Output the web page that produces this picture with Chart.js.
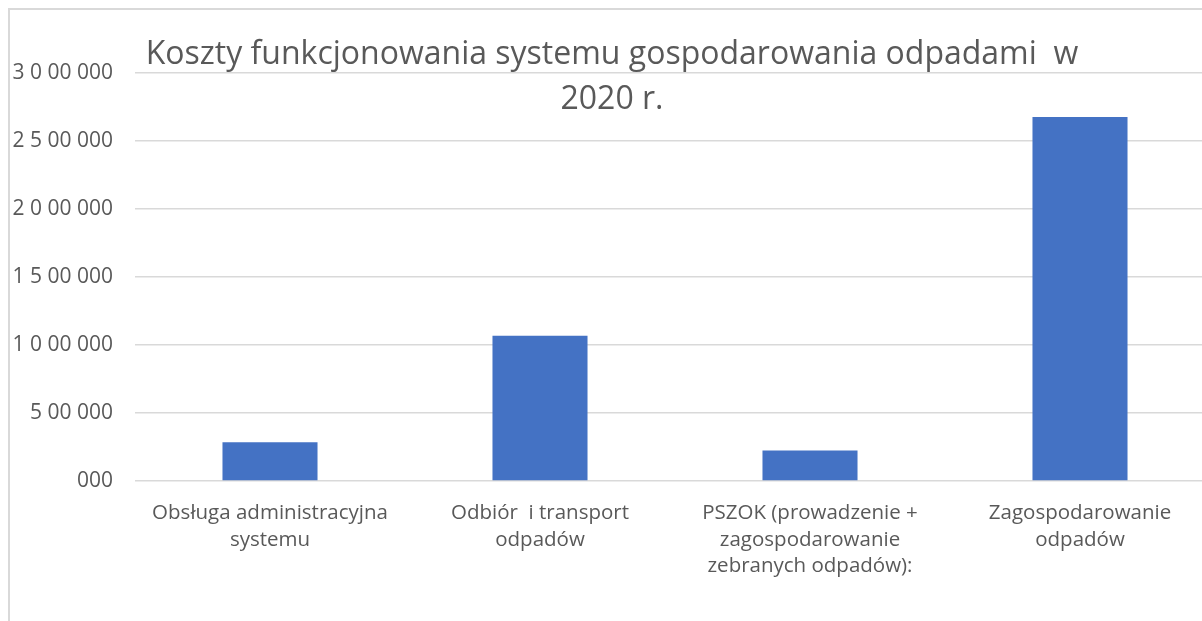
<!DOCTYPE html>
<html>
<head>
<meta charset="utf-8">
<script src="https://cdn.jsdelivr.net/npm/chart.js@4.4.1/dist/chart.umd.min.js"></script>
<style>
  html, body { margin: 0; padding: 0; background: #fff; overflow: hidden; }
  #wrap { position: relative; width: 1240px; height: 621px; }
</style>
</head>
<body>
<div id="wrap"><canvas id="myChart"></canvas></div>
<script>
// dane wykresu
const categories = [
    ['Obsługa administracyjna', 'systemu'],
    ['Odbiór  i transport', 'odpadów'],
    ['PSZOK (prowadzenie +', 'zagospodarowanie', 'zebranych odpadów):'],
    ['Zagospodarowanie', 'odpadów']
];
const costs = [285000, 1068000, 225000, 2676000];
const yTickLabels = ['000', '5 00 000', '1 0 00 000', '1 5 00 000', '2 0 00 000', '2 5 00 000', '3 0 00 000'];
const titleLines = ['Koszty funkcjonowania systemu gospodarowania odpadami  w', '2020 r.'];

const textColor = '#595959';
const gridColor = '#d9d9d9';
const fontFamily = '"Open Sans", "Noto Sans", sans-serif';

// ramka wykresu + tytuł nachodzący na obszar wykresu
const framePlugin = {
    id: 'frame',
    beforeDraw(chart) {
        const c = chart.ctx;
        c.save();
        c.fillStyle = '#fff';
        c.fillRect(0, 0, chart.width, chart.height);
        c.strokeStyle = gridColor;
        c.lineWidth = 2;
        c.beginPath();
        c.moveTo(9, chart.height);
        c.lineTo(9, 9);
        c.lineTo(chart.width, 9);
        c.stroke();
        c.restore();
    },
    afterDraw(chart) {
        const c = chart.ctx;
        c.save();
        c.fillStyle = textColor;
        c.font = '32px ' + fontFamily;
        c.textAlign = 'center';
        c.textBaseline = 'middle';
        c.fillText(titleLines[0], 612, 55);
        c.fillText(titleLines[1], 612, 100);
        c.restore();
    }
};

const ctx = document.getElementById('myChart').getContext('2d');
new Chart(ctx, {
    type: 'bar',
    data: {
        labels: categories,
        datasets: [{
            data: costs,
            backgroundColor: '#4472c4',
            borderWidth: 0,
            barPercentage: 0.352,
            categoryPercentage: 1
        }]
    },
    options: {
        responsive: true,
        maintainAspectRatio: false,
        animation: false,
        layout: { padding: { left: 10, top: 73, right: 25, bottom: 0 } },
        plugins: {
            legend: { display: false },
            title: { display: false },
            tooltip: { enabled: false }
        },
        scales: {
            x: {
                grid: { display: false },
                border: { display: false },
                ticks: {
                    color: textColor,
                    font: { family: fontFamily, size: 20.5, lineHeight: 1.3 },
                    maxRotation: 0,
                    autoSkip: false,
                    padding: 11
                },
                afterFit(scale) { scale.height = 140; }
            },
            y: {
                min: 0,
                max: 3000000,
                grid: { color: gridColor, lineWidth: 1.5, drawTicks: false },
                border: { display: false },
                ticks: {
                    stepSize: 500000,
                    color: textColor,
                    font: { family: fontFamily, size: 21 },
                    padding: 22,
                    callback: (v) => yTickLabels[Math.round(v / 500000)]
                },
                afterFit(scale) { scale.width = 125; }
            }
        }
    },
    plugins: [framePlugin]
});
</script>
</body>
</html>
